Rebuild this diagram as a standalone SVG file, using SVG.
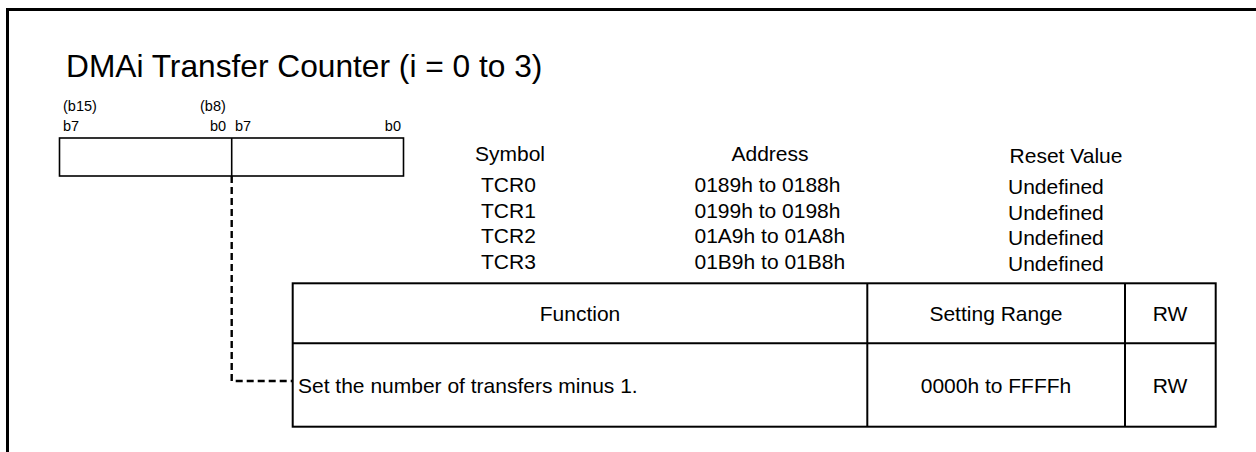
<svg xmlns="http://www.w3.org/2000/svg" width="1256" height="452" viewBox="0 0 1256 452">
<style>
text{font-family:"Liberation Sans",Arial,sans-serif;fill:#000}
.t{font-size:31.7px}
.b{font-size:14.5px}
.m{font-size:21px}
.c{text-anchor:middle}
.e{text-anchor:end}
.ln{fill:none;stroke:#000;stroke-width:2}
.thin{fill:none;stroke:#000;stroke-width:1.6}
.dash{fill:none;stroke:#000;stroke-width:2.4;stroke-dasharray:7,4}
</style>
<rect width="1256" height="452" fill="#fff"/>
<path d="M7.5,452 V9.5 H1256" fill="none" stroke="#000" stroke-width="3"/>
<text class="t" x="66" y="77">DMAi Transfer Counter (i = 0 to 3)</text>
<g id="register">
<text class="b" x="63" y="111">(b15)</text>
<text class="b" x="63" y="131">b7</text>
<text class="b" x="200" y="111">(b8)</text>
<text class="b" x="210" y="131">b0</text>
<text class="b" x="235" y="131">b7</text>
<text class="b e" x="401" y="131">b0</text>
<rect class="thin" x="59.5" y="138" width="344" height="38"/>
<line class="thin" x1="231.7" y1="138" x2="231.7" y2="176"/>
</g>
<g id="info">
<text class="m" x="475" y="161">Symbol</text>
<text class="m c" x="770" y="161">Address</text>
<text class="m c" x="1066" y="163">Reset Value</text>
<text class="m" x="481" y="192">TCR0</text>
<text class="m" x="481" y="217.5">TCR1</text>
<text class="m" x="481" y="243">TCR2</text>
<text class="m" x="481" y="268.5">TCR3</text>
<text class="m" x="694.5" y="192">0189h to 0188h</text>
<text class="m" x="694.5" y="217.5">0199h to 0198h</text>
<text class="m" x="694.5" y="243">01A9h to 01A8h</text>
<text class="m" x="694.5" y="268.5">01B9h to 01B8h</text>
<text class="m" x="1008" y="194">Undefined</text>
<text class="m" x="1008" y="219.5">Undefined</text>
<text class="m" x="1008" y="245">Undefined</text>
<text class="m" x="1008" y="270.5">Undefined</text>
</g>
<g id="table">
<rect class="ln" x="292.7" y="283.3" width="923" height="143.4"/>
<line class="ln" x1="292.7" y1="343.3" x2="1215.7" y2="343.3"/>
<line class="ln" x1="867.3" y1="283.3" x2="867.3" y2="426.7"/>
<line class="ln" x1="1125" y1="283.3" x2="1125" y2="426.7"/>
<text class="m c" x="580" y="320.5">Function</text>
<text class="m c" x="996" y="320.5">Setting Range</text>
<text class="m c" x="1170" y="320.5">RW</text>
<text class="m" x="298" y="392.5">Set the number of transfers minus 1.</text>
<text class="m c" x="996" y="392.5">0000h to FFFFh</text>
<text class="m c" x="1170" y="392.5">RW</text>
</g>
<g id="connectors">
<path class="dash" d="M231.7,176 V381 H292.7"/>
</g>
</svg>
